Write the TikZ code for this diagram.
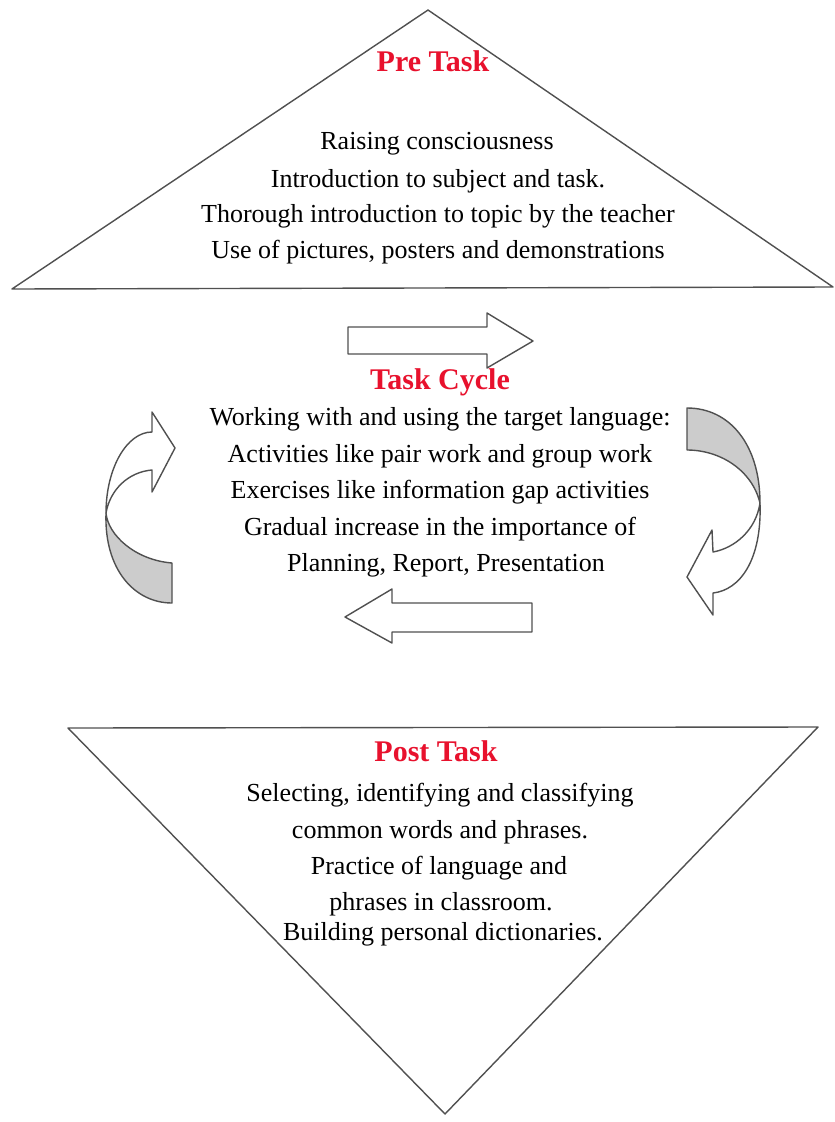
\documentclass[tikz,border=0pt]{standalone}
\usepackage{fontspec}
\setmainfont{Liberation Serif}
\definecolor{headred}{RGB}{232,17,45}
\definecolor{edge}{RGB}{80,80,80}
\definecolor{backside}{RGB}{204,204,204}
\begin{document}
\begin{tikzpicture}[x=1pt,y=-1pt,
  outline/.style={draw=edge,line width=1.4pt,line join=round},
  ribbon/.style={outline,fill=white},
  backface/.style={outline,fill=backside},
  body/.style={inner sep=0pt,anchor=base,font=\fontsize{26}{30}\selectfont},
  title/.style={inner sep=0pt,anchor=base,text=headred,font=\fontsize{30}{34}\selectfont\bfseries}]
\useasboundingbox[fill=white] (0,0) rectangle (835,1122);

% stage shapes
\draw[outline] (428,10) -- (833,287) -- (12,289) -- cycle;
\draw[outline] (68,728) -- (818,727) -- (445,1114) -- cycle;

% pre task
\node[title] (pre) at (433,71) {Pre Task};
\node[body] (pre1) at (437,149) {Raising consciousness};
\node[body] (pre2) at (438,187) {Introduction to subject and task.};
\node[body] (pre3) at (438,222) {Thorough introduction to topic by the teacher};
\node[body] (pre4) at (438,258) {Use of pictures, posters and demonstrations};

% task cycle
\node[title] (cyc) at (440,389) {Task Cycle};
\node[body] (cyc1) at (440,425) {Working with and using the target language:};
\node[body] (cyc2) at (440,462) {Activities like pair work and group work};
\node[body] (cyc3) at (440,498) {Exercises like information gap activities};
\node[body] (cyc4) at (440,535) {Gradual increase in the importance of};
\node[body] (cyc5) at (446,571) {Planning, Report, Presentation};

% post task
\node[title] (post) at (436,761) {Post Task};
\node[body] (post1) at (440,801) {Selecting, identifying and classifying};
\node[body] (post2) at (440,838) {common words and phrases.};
\node[body] (post3) at (439,874) {Practice of language and};
\node[body] (post4) at (441,910) {phrases in classroom.};
\node[body] (post5) at (443,940) {Building personal dictionaries.};

% block arrows
\draw[ribbon] (348,327) -- (487,327) -- (487,313) -- (533,341) -- (487,368)
  -- (487,354) -- (348,354) -- cycle;
\draw[ribbon] (532,603) -- (392,603) -- (392,589) -- (345,617) -- (392,643)
  -- (392,632) -- (532,632) -- cycle;

% left curved arrow: back face, then front face with head
\draw[backface] (106,513) .. controls (104,570) and (135,603) .. (172,603)
  -- (172,563) .. controls (135,560) and (108,535) .. (106,513) -- cycle;
\draw[ribbon] (106,513) .. controls (106,468) and (127,432) .. (152,432)
  -- (152,412) -- (175,448) -- (152,492) -- (152,470)
  .. controls (128,472) and (110,490) .. (106,513) -- cycle;

% right curved arrow: back face, then front face with head
\draw[backface] (687,408) .. controls (730,408) and (760,445) .. (760,503)
  .. controls (752,470) and (720,450) .. (687,450) -- cycle;
\draw[ribbon] (760,503) .. controls (762,560) and (740,590) .. (713,593)
  -- (713,615) -- (687,577) -- (712,530) -- (713,552)
  .. controls (735,548) and (756,530) .. (760,503) -- cycle;
\end{tikzpicture}
\end{document}
